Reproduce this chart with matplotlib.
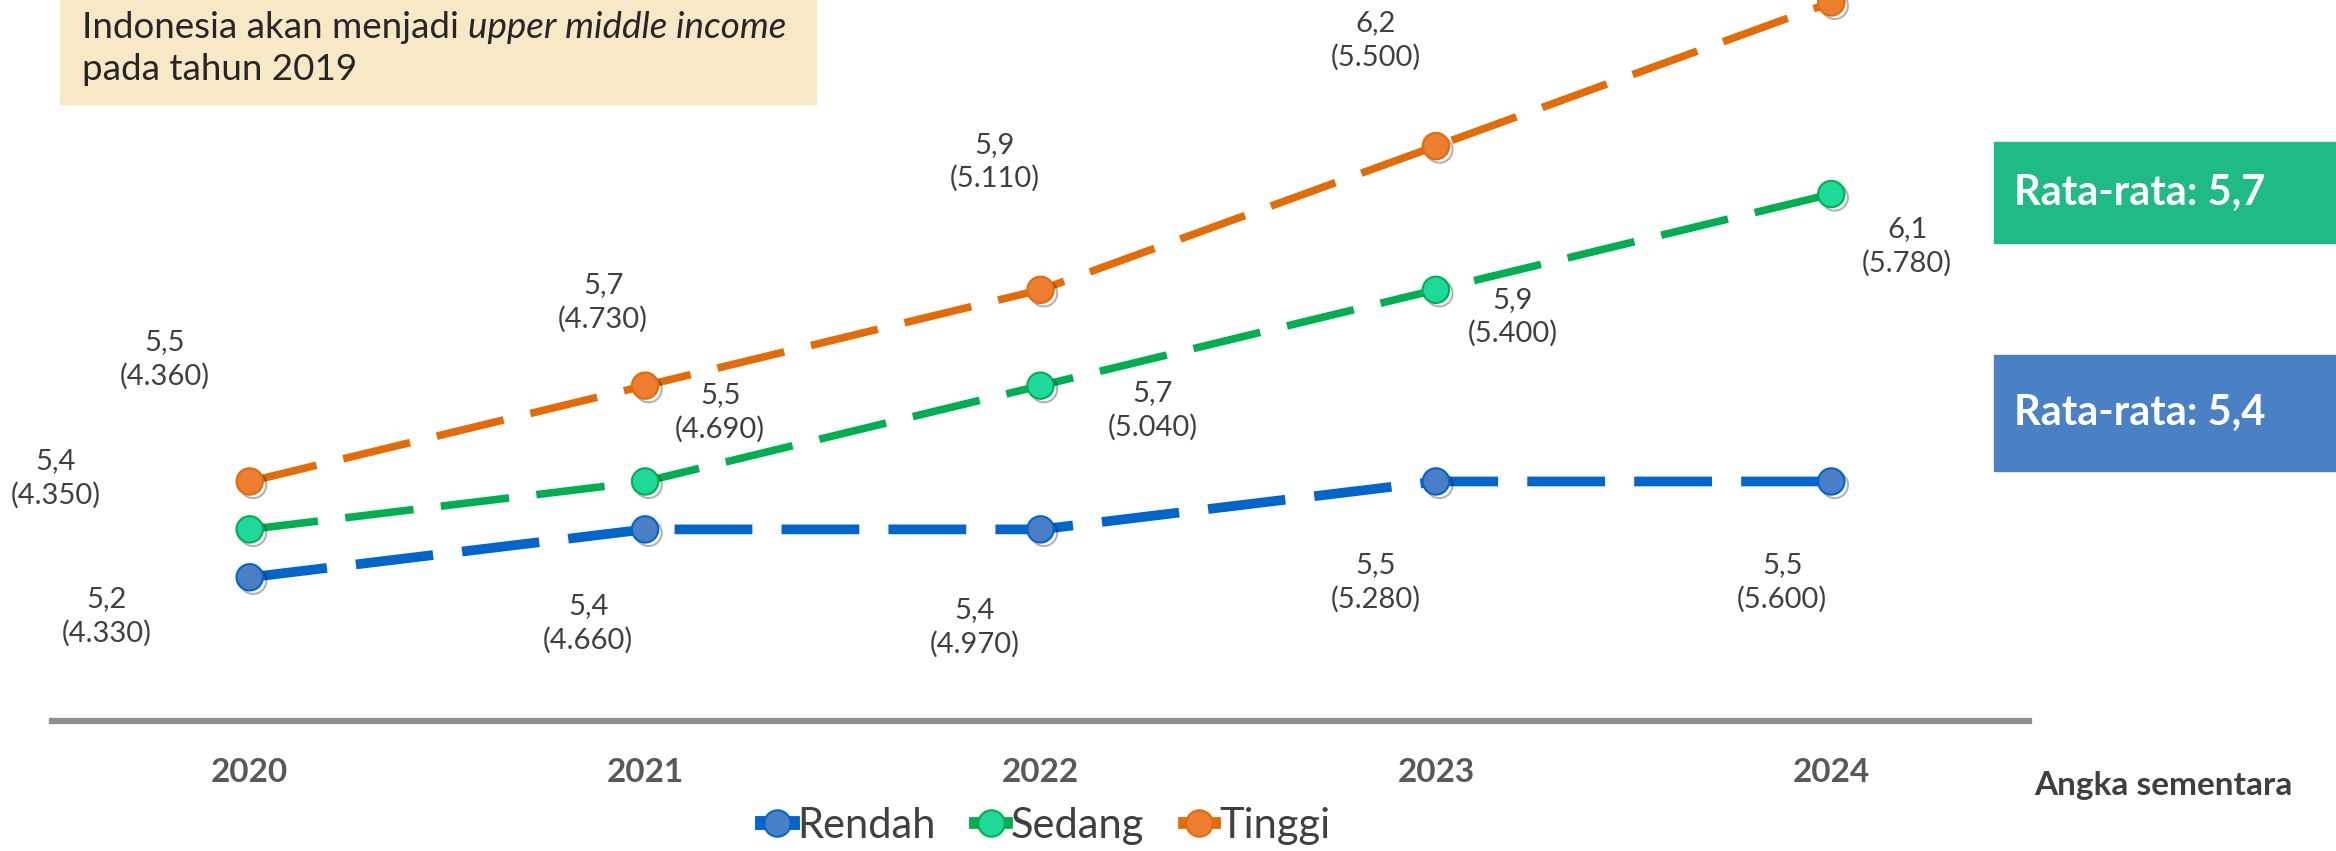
import matplotlib
matplotlib.use("Agg")
import matplotlib.pyplot as plt
import matplotlib.patheffects as pe
from matplotlib.lines import Line2D
from matplotlib.patches import Rectangle

plt.rcParams['font.family'] = ['Lato', 'DejaVu Sans']

# data (plotted growth, label text, GNI per capita)
years = [2020, 2021, 2022, 2023, 2024]
rendah = [5.3, 5.4, 5.4, 5.5, 5.5]
sedang = [5.4, 5.5, 5.7, 5.9, 6.1]
tinggi = [5.5, 5.7, 5.9, 6.2, 6.5]
rendah_lbl = ["5,2", "5,4", "5,4", "5,5", "5,5"]
sedang_lbl = ["5,4", "5,5", "5,7", "5,9", "6,1"]
tinggi_lbl = ["5,5", "5,7", "5,9", "6,2", "6,5"]
rendah_gni = ["4.330", "4.660", "4.970", "5.280", "5.600"]
sedang_gni = ["4.350", "4.690", "5.040", "5.400", "5.780"]
tinggi_gni = ["4.360", "4.730", "5.110", "5.500", "5.920"]
series_names = ["Rendah", "Sedang", "Tinggi"]
avg_text = ["Rata-rata: 5,4", "Rata-rata: 5,7"]

W, H = 2336, 851
fig = plt.figure(figsize=(W / 100, H / 100), dpi=100)
ax = fig.add_axes([52 / W, 130 / H, (2029 - 52) / W, 721 / H])
ax.patch.set_visible(False)
ax.set_xlim(2019.5, 2024.5)
ax.set_ylim(5.0, 6.505)
for s in ["top", "left", "right"]:
    ax.spines[s].set_visible(False)
ax.spines["bottom"].set_color("#8f8f8f")
ax.spines["bottom"].set_linewidth(4.5)
ax.set_yticks([])
ax.set_xticks(years)
ax.set_xticklabels([str(y) for y in years], fontsize=24, fontweight="bold", color="#595959")
ax.tick_params(axis="x", length=0, pad=27)

# style per series: line colour, marker fill, line width, dash pattern
styles = {
    "Rendah": ("#0066cc", "#4a7ec6", 7.0, (8.0, 3.0)),
    "Sedang": ("#00b050", "#1fd99b", 5.5, (9.0, 3.6)),
    "Tinggi": ("#e36c09", "#ed7d31", 5.5, (9.0, 3.6)),
}
values = {"Rendah": rendah, "Sedang": sedang, "Tinggi": tinggi}
labels = {"Rendah": (rendah_lbl, rendah_gni), "Sedang": (sedang_lbl, sedang_gni),
          "Tinggi": (tinggi_lbl, tinggi_gni)}
# label offsets in pixels (dx right, dy down)
offsets = {
    "Tinggi": [(-85, -122), (-42, -83), (-46, -128), (-60, -106), (99, -33)],
    "Sedang": [(-194, -51), (75, -69), (112, 25), (77, 27), (76, 52)],
    "Rendah": [(-143, 39), (-57, 94), (-66, 98), (-60, 101), (-49, 101)],
}

handles = []
for name in series_names:
    lc, mc, lw, dash = styles[name]
    ax.plot(years, values[name], color=lc, lw=lw, linestyle=(0, dash),
            solid_capstyle="butt", dash_capstyle="butt", clip_on=False, zorder=2)
    ax.plot(years, values[name], linestyle="none", marker="o", markersize=19,
            markerfacecolor=mc, markeredgecolor=lc, markeredgewidth=1.5, clip_on=False, zorder=3,
            path_effects=[pe.SimpleLineShadow(offset=(2.5, -2.5), shadow_color="k", alpha=0.3),
                          pe.Normal()])
    for i, y in enumerate(years):
        dx, dy = offsets[name][i]
        txt = labels[name][0][i] + "\n(" + labels[name][1][i] + ")"
        ax.annotate(txt, (y, values[name][i]), xytext=(dx, -dy), textcoords="offset pixels",
                    ha="center", va="center", fontsize=21, color="#404040",
                    linespacing=1.35, annotation_clip=False)
    handles.append(Line2D([], [], color=lc, lw=lw + 3, marker="o", markersize=19,
                          markerfacecolor=mc, markeredgecolor=lc, markeredgewidth=1.5))

fig.legend(handles, series_names, loc="center", bbox_to_anchor=(1046 / W, 25 / H), ncol=3,
           frameon=False, fontsize=30, handlelength=0.75, handletextpad=0.1, columnspacing=0.95,
           labelcolor="#404040")

# annotation box top left
fig.add_artist(Rectangle((60 / W, 1 - 104 / H), 756 / W, 104 / H + 0.01,
                         transform=fig.transFigure, color="#f7e8c6", zorder=0))
t1 = fig.text(82 / W, 1 - 27 / H, "Indonesia akan menjadi ", fontsize=26.5, color="#262626",
              va="center", ha="left")
fig.canvas.draw()
bb = t1.get_window_extent()
fig.text(bb.x1 / W, 1 - 27 / H, "upper middle income", fontsize=26.5, color="#262626",
         style="italic", va="center", ha="left")
fig.text(82 / W, 1 - 70 / H, "pada tahun 2019", fontsize=26.5, color="#262626",
         va="center", ha="left")

# average boxes on the right
box_cols = ["#4a80c4", "#1ebb87"]
box_tops = [355, 142]
box_bottoms = [471, 243]
for txt, col, top, bot in zip(avg_text, box_cols, box_tops, box_bottoms):
    fig.add_artist(Rectangle((1994 / W, 1 - bot / H), (W - 1994) / W, (bot - top) / H,
                             transform=fig.transFigure, color=col, zorder=0))
    fig.text(2014 / W, 1 - (top + bot) / 2 / H, txt, fontsize=30, fontweight="bold",
             color="white", va="center", ha="left")

fig.text(2034 / W, 1 - 785 / H, "Angka sementara", fontsize=24, fontweight="bold",
         color="#3f3f3f", va="center", ha="left")

fig.savefig("out.png", dpi=100)
